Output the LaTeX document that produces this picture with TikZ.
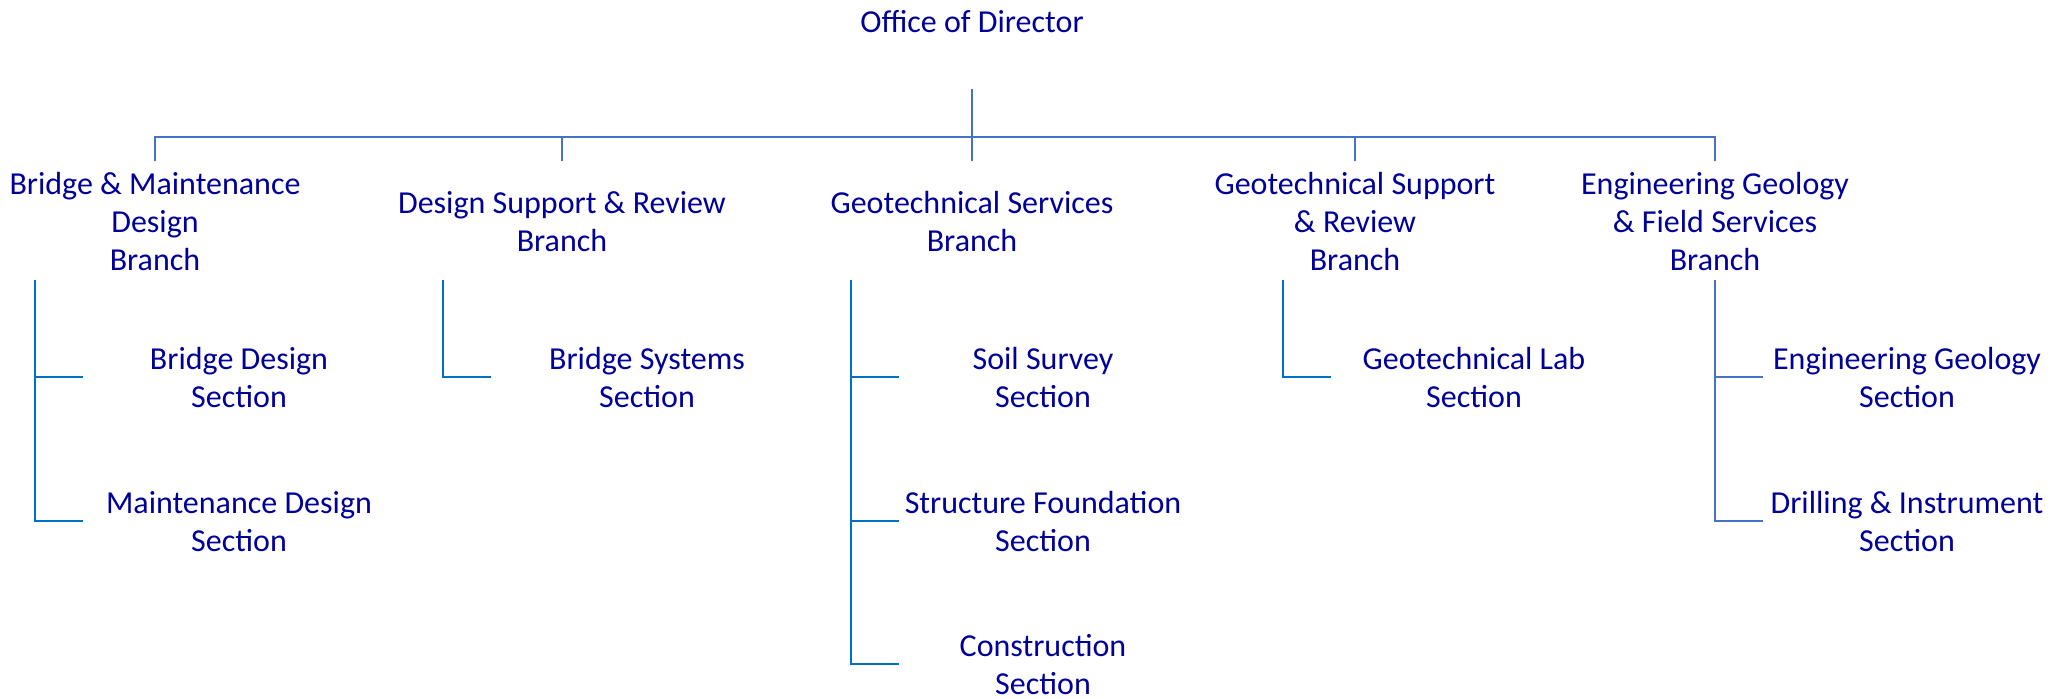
\documentclass[tikz,border=0pt]{standalone}
\usepackage{fontspec}
\setmainfont{Carlito}
\definecolor{textnavy}{HTML}{000099}
\definecolor{busblue}{HTML}{4472C4}
\definecolor{treeblue}{HTML}{0070C0}
\begin{document}
\begin{tikzpicture}[x=0.5pt,y=-0.5pt,line join=miter,
	font=\fontsize{16}{19}\selectfont,
	unit/.style={text=textnavy,align=center,inner sep=0pt},
	bus/.style={draw=busblue,line width=1pt},
	tree/.style={draw=treeblue,line width=1pt}]
	\useasboundingbox (0,0) rectangle (2054,699);
	% Văn phòng giám đốc và thanh ngang
	\node[unit] (dir) at (972,22) {Office of Director};
	\path
	(972,89) coordinate (top)
	(972,137) coordinate (bus);
	% Các nhánh
	\node[unit] (b1) at (155,222) {Bridge \& Maintenance\\Design\\Branch};
	\node[unit] (b2) at (562,222) {Design Support \& Review\\Branch};
	\node[unit] (b3) at (972,222) {Geotechnical Services\\Branch};
	\node[unit] (b4) at (1355,222) {Geotechnical Support\\\& Review\\Branch};
	\node[unit] (b5) at (1715,222) {Engineering Geology\\\& Field Services\\Branch};
	\draw[bus] (top) -- (bus);
	\draw[bus] ([yshift=-12pt]b1 |- bus) -- (b1 |- bus) -- (b5 |- bus) -- ([yshift=-12pt]b5 |- bus);
	\foreach \b in {b2,b3,b4}{
		\draw[bus] (\b |- bus) -- ([yshift=-12pt]\b |- bus);
	}
	% Các phòng
	\node[unit] (s11) at (239,378) {Bridge Design\\Section};
	\node[unit] (s12) at (239,522) {Maintenance Design\\Section};
	\node[unit] (s21) at (647,378) {Bridge Systems\\Section};
	\node[unit] (s31) at (1043,378) {Soil Survey\\Section};
	\node[unit] (s32) at (1043,522) {Structure Foundation\\Section};
	\node[unit] (s33) at (1043,665) {Construction\\Section};
	\node[unit] (s41) at (1474,378) {Geotechnical Lab\\Section};
	\node[unit] (s51) at (1907,378) {Engineering Geology\\Section};
	\node[unit] (s52) at (1907,522) {Drilling \& Instrument\\Section};
	\path
	(35,280) coordinate (t1) (83,377) coordinate (k11) (83,521) coordinate (k12)
	(443,280) coordinate (t2) (491,377) coordinate (k21)
	(851,280) coordinate (t3) (899,377) coordinate (k31) (899,521) coordinate (k32) (899,664) coordinate (k33)
	(1283,280) coordinate (t4) (1331,377) coordinate (k41)
	(1715,280) coordinate (t5) (1763,377) coordinate (k51) (1763,521) coordinate (k52);
	\draw[tree] (t1) |- (k12);
	\draw[tree] (t1 |- k11) -- (k11);
	\draw[tree] (t2) |- (k21);
	\draw[tree] (t3) |- (k33);
	\foreach \k in {k31,k32}{
		\draw[tree] (t3 |- \k) -- (\k);
	}
	\draw[tree] (t4) |- (k41);
	\draw[bus] (t5) |- (k52);
	\draw[bus] (t5 |- k51) -- (k51);
\end{tikzpicture}
\end{document}
